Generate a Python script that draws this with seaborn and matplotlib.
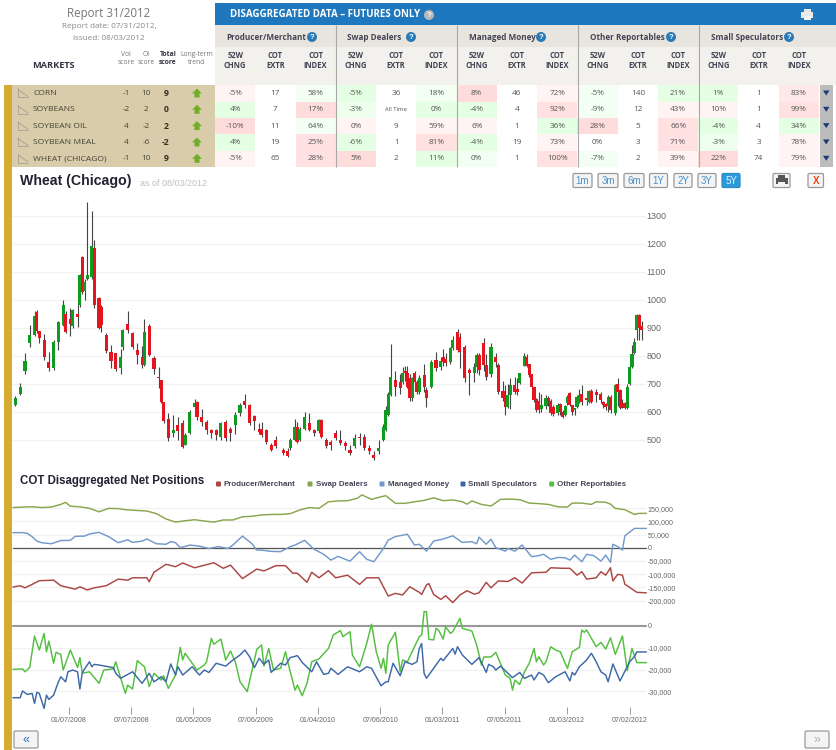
import matplotlib
matplotlib.use('Agg')
import numpy as np
import matplotlib.pyplot as plt
import seaborn as sns
from matplotlib.colors import LinearSegmentedColormap
from matplotlib.patches import Rectangle, FancyBboxPatch, Circle, Polygon

# ---- table data
markets = ['CORN', 'SOYBEANS', 'SOYBEAN OIL', 'SOYBEAN MEAL', 'WHEAT (CHICAGO)']
vol_score = [-1, -2, 4, 4, -1]
oi_score = [10, 2, -2, -6, 10]
total_score = [9, 0, 2, -2, 9]
groups = ['Producer/Merchant', 'Swap Dealers', 'Managed Money', 'Other Reportables', 'Small Speculators']
cell_text = [
    ['-5%', '17', '58%', '-5%', '36', '18%', '8%', '46', '72%', '-5%', '140', '21%', '1%', '1', '83%'],
    ['4%', '7', '17%', '-3%', 'All Time', '0%', '-4%', '4', '92%', '-9%', '12', '43%', '10%', '1', '99%'],
    ['-10%', '11', '64%', '0%', '9', '59%', '6%', '1', '36%', '28%', '5', '66%', '-4%', '4', '34%'],
    ['4%', '19', '25%', '-6%', '1', '81%', '-4%', '19', '73%', '0%', '3', '71%', '-3%', '3', '78%'],
    ['-5%', '65', '28%', '5%', '2', '11%', '0%', '1', '100%', '-7%', '2', '39%', '22%', '74', '79%'],
]
# -2 strong green ... 0 white ... 2 strong red
cell_shade = [
    [0.7, 0, -0.7, -1.5, 0, -0.7, 2, 0, 0.7, -0.7, 0, -1.5, -1.5, 0, 1.3],
    [-1.5, 0, 2, -1, 0, -1.5, -1.5, 0, 1.7, -0.7, 0, 0.7, 0.7, 0, 1.7],
    [2, 0, -0.7, 0.7, 0, 0.7, 0.7, 0, -1.5, 2, 0, 1.7, -1.5, 0, -1.5],
    [-1.5, 0, 1.7, -1.5, 0, 1.7, -1.5, 0, 0.7, 0, 0, 1.7, -1, 0, 0.7],
    [0.7, 0, 1.7, 2, 0, -1.5, -0.7, 0, 1.7, -0.7, 0, 0.7, 2, 0, 0.7],
]

# ---- price candles (week number, open, close, low, high)
candle_week = [1, 3, 5, 7, 9, 10, 11, 13, 15, 17, 19, 21, 22, 24, 25, 27, 28, 29, 30, 31,
               33, 34, 36, 37, 39, 41, 43, 45, 46, 48, 50, 52, 54, 55, 57, 59, 61, 62, 63, 65,
               67, 69, 71, 72, 74, 76, 77, 79, 81, 83, 85, 87, 89, 91, 93, 95, 97, 99, 101, 103,
               104, 106, 108, 110, 113, 115, 116, 118, 119, 120, 122, 124, 126, 128, 129, 131, 133, 135, 137, 139,
               141, 143, 145, 147, 149, 151, 153, 155, 156, 157, 158, 160, 162, 163, 164, 165, 166, 167, 168, 169,
               170, 172, 173, 175, 177, 179, 180, 181, 183, 184, 186, 187, 189, 191, 193, 194, 195, 197, 198, 200,
               202, 203, 205, 206, 207, 208, 210, 211, 212, 214, 215, 216, 217, 218, 219, 220, 221, 223, 224, 225,
               226, 228, 229, 230, 231, 232, 233, 234, 235, 236, 237, 238, 240, 241, 242, 244, 246, 247, 248, 249,
               250, 252, 253, 254, 255, 256, 257, 258, 259, 260, 261, 262, 263]
candle_open = [625, 665, 745, 845, 875, 957, 888, 855, 778, 755, 850, 910, 948, 930, 905, 948, 980, 1153, 1030, 1075,
               1082, 1183, 1005, 975, 875, 815, 808, 755, 830, 912, 880, 820, 795, 767, 905, 793, 725, 713, 634, 575,
               523, 553, 558, 482, 523, 618, 635, 582, 565, 535, 535, 511, 565, 540, 552, 595, 638, 624, 585, 540,
               540, 535, 481, 499, 463, 459, 470, 500, 547, 500, 540, 558, 535, 530, 570, 499, 493, 523, 499, 487,
               463, 476, 510, 510, 470, 445, 458, 500, 535, 590, 660, 713, 707, 707, 745, 740, 720, 650, 740, 707,
               672, 731, 677, 690, 785, 760, 797, 790, 777, 828, 886, 868, 832, 750, 737, 760, 802, 847, 767, 735,
               797, 767, 674, 660, 618, 660, 695, 681, 702, 765, 796, 769, 733, 689, 645, 640, 610, 622, 648, 640,
               618, 597, 627, 600, 588, 630, 668, 623, 605, 618, 635, 662, 648, 636, 674, 672, 662, 636, 627, 622,
               653, 595, 700, 677, 630, 630, 615, 698, 760, 808, 892, 945, 907]
candle_close = [650, 690, 780, 875, 943, 888, 862, 797, 755, 850, 920, 980, 885, 912, 965, 940, 1090, 1028, 1065, 1090,
                1192, 980, 898, 910, 817, 780, 752, 797, 892, 892, 832, 802, 767, 885, 803, 752, 720, 636, 567, 505,
                535, 530, 475, 517, 600, 630, 582, 565, 535, 523, 517, 558, 505, 523, 590, 625, 624, 558, 567, 528,
                517, 493, 463, 476, 451, 443, 500, 547, 493, 540, 582, 535, 523, 570, 510, 476, 481, 505, 487, 476,
                451, 505, 505, 472, 460, 435, 472, 547, 607, 662, 725, 690, 684, 740, 740, 690, 648, 720, 707, 672,
                720, 690, 648, 779, 757, 782, 779, 773, 827, 855, 820, 815, 722, 738, 760, 802, 748, 767, 725, 832,
                779, 672, 648, 618, 660, 695, 672, 672, 737, 800, 764, 731, 689, 642, 606, 605, 625, 648, 640, 595,
                590, 625, 598, 582, 622, 653, 625, 600, 612, 653, 660, 633, 642, 674, 636, 660, 642, 624, 618, 653,
                606, 695, 672, 615, 618, 612, 690, 760, 805, 848, 945, 898, 892]
candle_low = [620, 660, 735, 830, 870, 880, 845, 785, 745, 750, 820, 905, 880, 870, 900, 903, 975, 1020, 1000, 1070,
              1075, 970, 895, 885, 810, 755, 745, 735, 820, 880, 825, 770, 755, 765, 800, 735, 686, 630, 560, 497,
              510, 500, 472, 480, 520, 610, 570, 550, 520, 505, 500, 500, 497, 495, 520, 585, 615, 552, 535, 520,
              510, 485, 458, 470, 447, 440, 465, 495, 490, 495, 535, 530, 515, 525, 505, 470, 465, 500, 480, 465,
              447, 470, 480, 465, 450, 428, 450, 495, 530, 585, 655, 655, 665, 700, 710, 685, 640, 640, 700, 665,
              665, 670, 618, 685, 745, 750, 765, 765, 772, 820, 815, 755, 705, 660, 705, 740, 732, 745, 715, 725,
              760, 665, 640, 590, 612, 610, 665, 660, 700, 762, 760, 725, 685, 635, 600, 595, 600, 610, 620, 590,
              585, 590, 590, 578, 585, 625, 620, 590, 590, 612, 630, 625, 625, 630, 630, 635, 630, 612, 605, 600,
              595, 590, 620, 610, 612, 608, 610, 695, 755, 805, 855, 855, 855]
candle_high = [655, 702, 808, 910, 960, 962, 890, 878, 812, 855, 925, 1000, 960, 970, 968, 987, 1092, 1155, 1075, 1350,
               1317, 1215, 1010, 980, 880, 838, 810, 825, 895, 960, 885, 845, 835, 931, 915, 800, 760, 715, 636, 595,
               590, 580, 570, 525, 605, 645, 640, 610, 570, 540, 540, 565, 570, 545, 600, 630, 665, 626, 590, 560,
               565, 540, 490, 515, 470, 470, 505, 575, 565, 545, 600, 595, 540, 575, 575, 505, 500, 535, 535, 495,
               480, 520, 525, 520, 480, 460, 500, 555, 620, 670, 842, 745, 735, 760, 765, 765, 735, 725, 745, 715,
               730, 770, 690, 785, 812, 795, 825, 810, 830, 872, 895, 880, 840, 755, 775, 810, 810, 865, 805, 845,
               810, 775, 710, 695, 700, 720, 725, 720, 740, 810, 805, 770, 735, 690, 650, 670, 665, 660, 655, 645,
               625, 630, 630, 605, 625, 660, 672, 625, 615, 660, 680, 695, 650, 678, 680, 680, 672, 640, 630, 660,
               660, 700, 720, 680, 645, 635, 700, 765, 840, 865, 948, 950, 925]

# ---- COT net positions, thousands of contracts
swap_week = [0, 4, 8, 12, 16, 20, 22, 24, 28, 32, 36, 40, 44, 48, 52, 56, 60, 64, 68, 72, 76, 80, 84, 88, 92,
             96, 100, 104, 108, 112, 116, 120, 124, 128, 132, 136, 140, 144, 146, 150, 154, 156, 160, 164, 168,
             172, 176, 180, 184, 188, 190, 192, 196, 200, 204, 208, 212, 216, 220, 224, 228, 232, 234, 238, 242,
             244, 248, 250, 252, 256, 260, 262, 265]
swap_net = [152, 154, 155, 152, 154, 164, 172, 157, 155, 149, 136, 149, 148, 143, 141, 139, 129, 109, 97, 102,
            106, 101, 97, 105, 105, 117, 119, 124, 126, 126, 129, 143, 152, 149, 174, 177, 178, 187, 200, 183,
            193, 197, 168, 168, 174, 179, 189, 178, 181, 174, 165, 177, 164, 158, 183, 184, 182, 169, 167, 164,
            155, 154, 169, 169, 164, 174, 172, 165, 149, 144, 126, 130, 130]

managed_week = [0, 4, 6, 8, 10, 12, 16, 20, 24, 26, 30, 32, 36, 40, 44, 48, 50, 54, 56, 60, 64, 66, 68, 70, 74,
                78, 82, 86, 90, 92, 96, 100, 102, 104, 108, 112, 116, 118, 122, 126, 130, 133, 136, 141, 145,
                148, 151, 155, 157, 160, 165, 168, 170, 173, 176, 180, 184, 188, 192, 194, 195, 198, 200, 202,
                206, 207, 210, 213, 217, 220, 222, 225, 228, 231, 233, 235, 238, 240, 243, 246, 248, 250, 251,
                253, 255, 256, 260, 265]
managed_net = [57, 57, 54, 42, 25, 19, 15, 27, 28, 43, 44, 52, 58, 42, 19, 30, 20, 25, 33, 15, 13, 23, 19, 0, 10,
               6, -3, 4, -3, 10, 44, 15, -9, -9, -14, -15, 4, 10, 28, -6, -25, -47, -33, -51, -15,
               -44, -53, -3, 29, 42, 51, 10, 13, -13, 25, 33, 45, 20, 23, 15, 40, 13, 32, 0,
               -13, -3, -13, 10, -34, -30, -25, -44, -37, -38, -47, -28, -53, -25, -30, -51, -28, -56, 13,
               4, -9, 45, 73, 73]

producer_week = [0, 3, 5, 8, 11, 17, 20, 26, 28, 31, 34, 39, 44, 48, 50, 56, 57, 59, 64, 68, 71, 76, 84, 88, 91,
                 96, 102, 105, 110, 114, 117, 119, 123, 125, 128, 132, 135, 140, 145, 148, 153, 157, 160, 163, 166,
                 170, 171, 173, 174, 176, 179, 181, 184, 187, 190, 193, 195, 198, 200, 203, 207, 210, 213, 217,
                 223, 225, 230, 233, 236, 238, 240, 244, 246, 248, 250, 251, 253, 255, 256, 261, 265]
producer_net = [-149, -144, -152, -139, -125, -123, -144, -157, -148, -160, -152, -144, -119, -123, -114, -114, -129, -93, -63, -72,
                -58, -76, -57, -78, -66, -117, -81, -88, -68, -68, -96, -97, -131, -93, -114, -87, -114, -104, -139, -114,
                -114, -183, -173, -179, -148, -169, -177, -141, -136, -177, -196, -182, -208, -179, -163, -176, -171, -131, -152, -126,
                -128, -114, -134, -95, -93, -76, -78, -78, -104, -91, -119, -114, -91, -104, -76, -126, -101, -104, -138, -169, -171]

other_week = [0, 4, 5, 7, 9, 11, 13, 14, 15, 17, 18, 20, 21, 24, 27, 28, 29, 32, 36, 38, 42, 43, 47, 48, 50,
              52, 55, 57, 59, 62, 63, 65, 68, 70, 71, 72, 77, 80, 81, 83, 84, 87, 89, 91, 93, 95, 98, 102, 104,
              105, 107, 109, 112, 114, 116, 118, 119, 121, 123, 125, 128, 132, 134, 137, 138, 141, 142, 145, 148,
              150, 152, 154, 155, 156, 157, 160, 162, 163, 165, 168, 170, 171, 172, 173, 174, 176, 177, 178, 180,
              181, 183, 184, 187, 188, 192, 194, 196, 197, 200, 202, 206, 208, 209, 210, 212, 214, 216, 218, 219,
              220, 222, 223, 225, 227, 229, 231, 232, 234, 237, 238, 239, 240, 244, 246, 248, 250, 252, 255, 257,
              259, 261, 265]
other_net = [-19.9, -19.7, -21, -19, -4.6, -11, -3.4, -11.8, -6.9, -17.1, -12.1, -13, -20.2, -11, -19, -14.5, -21.7, -21, -26.3, -20.2,
             -19.7, -16.4, -30.9, -27.1, -28.9, -15.9, -18.7, -27.8, -21.7, -24.8, -22.8, -28.6, -22.5, -9.8, -15.6, -12.5, -20.2, -17.9, -16.4, -5.7,
             -8.4, -6, -15.6, -11.5, -16.4, -25.6, -30.1, -10.7, -8.7, -18.4, -10.3, -20.2, -19.4, -11.8, -21, -29.4, -27.1, -32, -26.3, -16.4,
             -15.1, -10.3, -4.1, -2.1, -4.9, -2.6, -13.3, -18.7, -8, 0.8, -11.8, -19.4, -14.8, -21.7, -8.7, -2.9, -21, -15.6, -16.4, -9.5,
             -4.9, -4.1, 6.6, 6.6, -6.1, -6.4, -1.1, -1.8, -6, -0.3, -3.4, -2.6, 3.5, -1.1, -2.3, -8.7, -17.9, -14.2, -14.2, -12.1,
             -22.5, -24, -29.4, -24.8, -26.8, -21, -17.1, -10.3, -16.4, -14.1, -17.9, -16.4, -9.5, -11, -11.8, -17.1, -19.4, -11.8, -9.8, -1.8,
             -2.9, -1.8, -9.5, -7.5, -10.6, -5.4, -13, -4.6, -20.5, -10.3, -16.8, -16.8]

small_week = [0, 3, 4, 6, 8, 9, 10, 11, 13, 14, 15, 17, 19, 20, 22, 23, 25, 27, 28, 29, 32, 33, 34, 36, 42,
              43, 45, 50, 54, 57, 59, 62, 64, 66, 68, 69, 71, 75, 78, 80, 82, 85, 89, 92, 95, 97, 99, 101, 103,
              105, 107, 108, 112, 114, 116, 119, 121, 125, 127, 130, 132, 133, 136, 140, 145, 148, 150, 154, 156,
              157, 159, 162, 164, 167, 169, 170, 171, 172, 173, 176, 179, 180, 184, 185, 186, 188, 192, 195, 198,
              199, 201, 202, 204, 209, 212, 214, 217, 218, 220, 222, 224, 227, 231, 233, 234, 235, 237, 240, 242,
              244, 246, 248, 249, 251, 254, 258, 260, 261, 265]
small_net = [-32.9, -32.9, -29.8, -31.4, -30.9, -35.5, -30.4, -30.9, -37.8, -31.7, -33.7, -31.7, -25.6, -23.3, -25.6, -21, -20.2, -21, -28.9, -21.3,
             -16.4, -18.7, -17.6, -17.9, -19.1, -21.7, -24, -21, -26.3, -21.7, -25.6, -23.3, -25.6, -17.4, -22.5, -18.7, -22.5, -18.7, -22.5, -20.2,
             -21.3, -17.1, -18.4, -15.6, -13.3, -11, -14.1, -19.1, -14.8, -17.6, -15.6, -21.3, -17.1, -17.9, -14.5, -13.6, -16.7, -21, -16.4, -22.2,
             -21.7, -19.4, -22.2, -18.7, -21, -18.7, -19.4, -27.4, -25.6, -25.6, -17.1, -22.8, -16.4, -17.6, -16.4, -10.3, -8, -21.7, -24, -19.4,
             -14.8, -15.9, -10.3, -12.9, -9.5, -13.3, -17.6, -14.5, -21.3, -17.6, -18.7, -20.2, -18.4, -23.7, -21.3, -24, -22.5, -24.8, -21.3, -22.5,
             -26, -23.3, -21, -25.2, -21.3, -22.5, -18.7, -15.6, -12.5, -16.4, -21, -22.5, -25.6, -17.4, -25.2, -16.4, -14.1, -11.9, -11.9]

date_ticks = [23.4, 49.4, 75.5, 101.5, 127.5, 153.7, 179.6, 205.7, 231.7, 258]
date_labels = ['01/07/2008', '07/07/2008', '01/05/2009', '07/06/2009', '01/04/2010',
               '07/06/2010', '01/03/2011', '07/05/2011', '01/03/2012', '07/02/2012']
price_ticks = [500, 600, 700, 800, 900, 1000, 1100, 1200, 1300]
net_ticks = [-200, -150, -100, -50, 0, 50, 100, 150]
net_low_ticks = [-30, -20, -10, 0]

W, H = 836, 750
UP, DOWN = '#0f9a20', '#e3151f'
GOLD, TAN = '#d4ac2f', '#d8ccaa'
C_PROD, C_SWAP, C_MAN, C_SMALL, C_OTHER = '#aa4643', '#89a54e', '#7399cb', '#3d69a8', '#52bf3e'
LABEL = '#666666'

sns.set_style('white')
plt.rcParams['font.family'] = ['Liberation Sans', 'DejaVu Sans']
TAHOMA = ['Open Sans', 'DejaVu Sans']

fig = plt.figure(figsize=(W / 100, H / 100), dpi=100)


def px_axes(left, top, right, bottom, **kw):
    """Axes placed by screen pixels"""
    return fig.add_axes([left / W, 1 - bottom / H, (right - left) / W, (bottom - top) / H], **kw)


# Page furniture lives on one full-size pixel axes
page = px_axes(0, 0, W, H, zorder=0)
page.set_xlim(0, W)
page.set_ylim(H, 0)
page.axis('off')


def box(x0, y0, x1, y1, color, z=1):
    page.add_patch(Rectangle((x0, y0), x1 - x0, y1 - y0, fc=color, ec='none', zorder=z))


def help_icon(x, y, color='#2a7ab8'):
    page.add_patch(Circle((x, y), 5, fc=color, ec='none', zorder=3))
    page.text(x, y + 0.3, '?', color='white', fontsize=5.5, fontweight='bold', ha='center', va='center', zorder=4)


def button(x0, x1, y0, y1, label, fg='#4a90c8', fc='#f4f4f4', ec='#999999', size=7):
    page.add_patch(FancyBboxPatch((x0 + 1.5, y0 + 1.5), x1 - x0 - 3, y1 - y0 - 3, boxstyle='round,pad=1.5',
                                  fc=fc, ec=ec, lw=0.9, zorder=3))
    page.text((x0 + x1) / 2, (y0 + y1) / 2 + 0.3, label, color=fg, fontsize=size, ha='center', va='center', zorder=4)


def printer(x, y, color='#555555'):
    box(x - 3.5, y - 6, x + 3.5, y - 2, color, 5)
    box(x - 6, y - 2.5, x + 6, y + 3, color, 5)
    box(x - 3.5, y + 1, x + 3.5, y + 5.5, '#f2f2f2', 6)


box(4, 85, 12, H, GOLD)
box(12, 85, 215, 167, TAN)

# report info
page.text(109, 13.5, 'Report 31/2012', color='#777777', fontsize=8.3, ha='center', va='center', family=TAHOMA)
page.text(109, 27, 'Report date: 07/31/2012,', color='#888888', fontsize=5.9, ha='center', va='center', family=TAHOMA)
page.text(109, 39, 'issued: 08/03/2012', color='#888888', fontsize=5.9, ha='center', va='center', family=TAHOMA)
page.text(32, 65, 'MARKETS', color='#333344', fontsize=6.6, fontweight='bold', va='center', family=TAHOMA)
for x, top_line, low_line, weight in [(126, 'Vol', 'score', 'normal'), (146, 'OI', 'score', 'normal'),
                                      (168, 'Total', 'score', 'bold'), (197, 'Long-term', 'trend', 'normal')]:
    color = '#333344' if weight == 'bold' else '#777777'
    page.text(x, 54.5, top_line, color=color, fontsize=4.9, fontweight=weight, ha='center', va='center', family=TAHOMA)
    page.text(x, 63, low_line, color=color, fontsize=4.9, fontweight=weight, ha='center', va='center', family=TAHOMA)

# blue header and group bands
box(215, 2.5, W, 25, '#1f78be')
page.text(230, 14.5, 'DISAGGREGATED DATA – FUTURES ONLY', color='white', fontsize=7, fontweight='bold',
          va='center', family=TAHOMA)
help_icon(429, 15, '#b8b8b8')
printer(807, 14.5, '#e8e8e8')
box(215, 25, W, 46.7, '#e8e5df')
box(215, 46.7, W, 85, '#f3f1ed')
col_w = (819 - 215) / 15
for g, name in enumerate(groups):
    x0 = 215 + g * 3 * col_w
    page.text([226, 347, 469, 590, 711][g], 37.5, name, color='#444455', fontsize=5.9, fontweight='bold',
              va='center', family=TAHOMA)
    help_x = [312, 411, 541, 671, 789][g]
    help_icon(help_x, 37)
    for c, (a, b) in enumerate([('52W', 'CHNG'), ('COT', 'EXTR'), ('COT', 'INDEX')]):
        xc = x0 + (c + 0.5) * col_w
        page.text(xc, 55.5, a, color='#444455', fontsize=5.5, fontweight='bold', ha='center', va='center', family=TAHOMA)
        page.text(xc, 66, b, color='#444455', fontsize=5.5, fontweight='bold', ha='center', va='center', family=TAHOMA)

# left score columns
for i, name in enumerate(markets):
    yc = 85.3 + (i + 0.5) * 16.33
    page.text(33, yc, name, color='#444433', fontsize=6.1, va='center', family=TAHOMA)
    page.text(126, yc, str(vol_score[i]), color='#444433', fontsize=5.9, ha='center', va='center', family=TAHOMA)
    page.text(146, yc, str(oi_score[i]), color='#444433', fontsize=5.9, ha='center', va='center', family=TAHOMA)
    page.text(166, yc, str(total_score[i]), color='#333322', fontsize=6.2, fontweight='bold', ha='center', va='center', family=TAHOMA)
    # long-term trend arrow
    page.add_patch(Polygon([(197, yc - 5), (202, yc), (199.5, yc), (199.5, yc + 4), (194.5, yc + 4), (194.5, yc), (192, yc)],
                           fc='#72ad2a', ec='none', zorder=3))
    # small chart icon
    page.plot([18, 22, 25, 28], [yc - 4, yc - 1, yc + 1, yc + 3], color='#c09a90', lw=0.7, zorder=3)
    page.plot([18, 18, 28], [yc - 5, yc + 4, yc + 4], color='#a8a090', lw=0.6, zorder=3)
    # scroll column
    box(820, yc - 8.2, 833, yc + 8.2, '#bcbcbc')
    page.add_patch(Polygon([(823, yc - 3), (829.5, yc - 3), (826.2, yc + 2)], fc='#1d3a78', ec='none', zorder=3))

# market table cells
cell_cmap = LinearSegmentedColormap.from_list('cells', ['#dcffdc', '#ffffff', '#ffdcdc'])
cells = px_axes(215, 85.3, 819, 167, zorder=2)
sns.heatmap(np.array(cell_shade, dtype=float), ax=cells, annot=np.array(cell_text), fmt='', cmap=cell_cmap,
            vmin=-2, vmax=2, cbar=False, xticklabels=False, yticklabels=False, linewidths=0,
            annot_kws={'fontsize': 5.9, 'color': '#555555', 'family': TAHOMA})
for t in cells.texts:
    if t.get_text() == 'All Time':
        t.set_fontsize(4.2)

# group separators go above the cells
sep = px_axes(0, 0, W, H, zorder=3)
sep.set_xlim(0, W)
sep.set_ylim(H, 0)
sep.axis('off')
sep.vlines([335.7, 456.5, 577.5, 698.5], 25, 167, color='#a8a8a8', lw=0.8)

# price panel
page.text(19.5, 181.5, 'Wheat (Chicago)', color='#222233', fontsize=10.2, fontweight='bold', va='center')
page.text(140, 183, 'as of 08/03/2012', color='#c0c0c0', fontsize=6.5, va='center')
for x0, x1, lab in [(573, 592, '1m'), (598, 618, '3m'), (624, 644, '6m'), (649.5, 667.5, '1Y'),
                    (674, 692, '2Y'), (698, 716, '3Y')]:
    button(x0, x1, 173.5, 187.5, lab)
button(722, 740, 173.5, 187.5, '5Y', fg='#e8f4ff', fc='#2a9bd8', ec='#2a8cc4')
button(773, 790, 173.5, 187.5, '')
printer(781.5, 180.5)
button(808, 823.5, 173.5, 187.5, 'X', fg='#ee4411')
page.texts[-1].set_fontweight('bold')

week_max = (646 - 13) / 2.39
ax_price = px_axes(13, 170, 646, 465, zorder=2)
ax_price.patch.set_alpha(0)
ax_price.set_xlim(0, week_max)
ax_price.set_ylim(500 - 25.3 / 0.28, 1300 + 45.7 / 0.28)
opens = np.array(candle_open)
closes = np.array(candle_close)
ax_price.vlines(candle_week, candle_low, candle_high, color='#444444', lw=0.8, zorder=2)
ax_price.bar(candle_week, closes - opens, bottom=opens, width=1.3,
             color=[UP if c > o else DOWN for o, c in zip(opens, closes)], lw=0, zorder=3)
ax_price.set_yticks(price_ticks)
ax_price.set_xticks([])
ax_price.yaxis.tick_right()
ax_price.grid(axis='y', color='#f1f1f1', lw=0.9)
ax_price.tick_params(axis='y', length=0, pad=0.5, labelsize=6.5, labelcolor=LABEL)
sns.despine(ax=ax_price, left=True, bottom=True, right=True, top=True)

# COT panel
page.text(19.5, 481, 'COT Disaggregated Net Positions', color='#222233', fontsize=8.3, fontweight='bold', va='center')
legend_items = [(218.5, 'Producer/Merchant', C_PROD), (310, 'Swap Dealers', C_SWAP), (382, 'Managed Money', C_MAN),
                (463, 'Small Speculators', C_SMALL), (551.7, 'Other Reportables', C_OTHER)]
for x, lab, col in legend_items:
    page.add_patch(FancyBboxPatch((x - 1.5, 482.5), 3, 3, boxstyle='round,pad=1', fc=col, ec='none', zorder=3))
    page.text(x + 5.5, 484.5, lab, color='#444455', fontsize=5.7, fontweight='bold', va='center')

ax_net = px_axes(13, 500, 646, 612, zorder=2)
ax_net.patch.set_alpha(0)
ax_net.set_xlim(0, week_max)
ax_net.set_ylim(-(612 - 547.7) / 0.264, (547.7 - 500) / 0.264)
ax_net.axhline(0, color='#555555', lw=0.9, zorder=2)
sns.lineplot(x=swap_week, y=swap_net, color=C_SWAP, lw=1.05, ax=ax_net, errorbar=None, zorder=3)
sns.lineplot(x=managed_week, y=managed_net, color=C_MAN, lw=1.05, ax=ax_net, errorbar=None, zorder=3)
sns.lineplot(x=producer_week, y=producer_net, color=C_PROD, lw=1.05, ax=ax_net, errorbar=None, zorder=3)
for line in ax_net.lines:
    line.set_clip_on(False)
ax_net.set_yticks(net_ticks)
ax_net.set_yticklabels([f'{v * 1000:,}' for v in net_ticks])
ax_net.set_xticks([])
ax_net.set_xlabel('')
ax_net.yaxis.tick_right()
ax_net.grid(axis='y', color='#f1f1f1', lw=0.9)
ax_net.tick_params(axis='y', length=0, pad=1, labelsize=5.1, labelcolor=LABEL)
sns.despine(ax=ax_net, left=True, bottom=True, right=True, top=True)

ax_low = px_axes(13, 612, 646, 714, zorder=2)
ax_low.patch.set_alpha(0)
ax_low.set_xlim(0, week_max)
ax_low.set_ylim(-(714 - 626) / 2.18, (626 - 612) / 2.18)
ax_low.axhline(0, color='#999999', lw=1.5, zorder=2)
sns.lineplot(x=other_week, y=other_net, color=C_OTHER, lw=1.05, ax=ax_low, errorbar=None, zorder=3)
sns.lineplot(x=small_week, y=small_net, color=C_SMALL, lw=1.05, ax=ax_low, errorbar=None, zorder=4)
for line in ax_low.lines:
    line.set_clip_on(False)
ax_low.set_yticks(net_low_ticks)
ax_low.set_yticklabels([f'{v * 1000:,}' for v in net_low_ticks])
ax_low.set_xticks(date_ticks)
ax_low.set_xticklabels(date_labels)
ax_low.set_xlabel('')
ax_low.yaxis.tick_right()
ax_low.grid(axis='y', color='#f1f1f1', lw=0.9)
ax_low.tick_params(axis='y', length=0, pad=1, labelsize=5.1, labelcolor=LABEL)
ax_low.tick_params(axis='x', bottom=True, direction='in', length=5, width=0.7, color='#999999', pad=2,
                   labelsize=5.1, labelcolor=LABEL)
sns.despine(ax=ax_low, left=True, bottom=True, right=True, top=True)

# paging buttons
button(14, 38, 731, 748, '«', fg='#2a6eb8', size=9)
button(805, 829, 731, 748, '»', fg='#b0b0b0', size=9)

fig.savefig('out.png', dpi=100)
plt.close(fig)
